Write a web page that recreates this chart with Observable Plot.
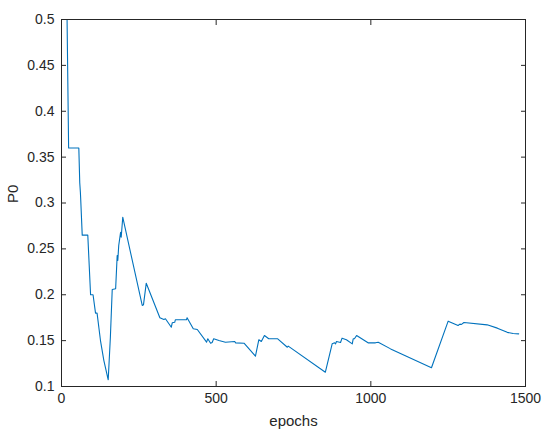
<!DOCTYPE html>
<html><head><meta charset="utf-8">
<script src="https://cdn.jsdelivr.net/npm/d3@7"></script>
<script src="https://cdn.jsdelivr.net/npm/@observablehq/plot@0.6"></script>
<style>body{margin:0;background:#fff}</style>
</head><body><div id="chart"></div>
<script>
const epochs = [0,18,23,56,59,61,62,67,85,94,102,110,115,126,137,151,158,164,175,180,182,185,191,193,198,261,265,274,318,331,336,355,358,366,368,404,406,426,439,469,473,482,487,492,509,530,560,563,590,627,638,646,656,670,699,730,733,853,875,883,886,889,902,907,921,940,943,947,954,991,1015,1024,1064,1196,1250,1282,1288,1292,1301,1376,1409,1441,1460,1478];
const p0 = [0.5,0.5,0.36,0.36,0.322,0.312,0.305,0.265,0.265,0.2,0.2,0.18,0.18,0.1501,0.1283,0.1073,0.1537,0.2057,0.2065,0.2428,0.2373,0.2537,0.268,0.2627,0.2845,0.1883,0.189,0.2126,0.1749,0.173,0.1738,0.1646,0.1694,0.17,0.1727,0.1727,0.1749,0.1629,0.1621,0.1483,0.152,0.1472,0.148,0.152,0.1501,0.1483,0.149,0.1476,0.1472,0.133,0.151,0.149,0.1556,0.152,0.152,0.1428,0.144,0.1156,0.1465,0.1476,0.1465,0.149,0.148,0.1527,0.151,0.1465,0.152,0.152,0.1556,0.1476,0.1476,0.1483,0.141,0.1204,0.1712,0.1665,0.168,0.1675,0.1698,0.1672,0.1636,0.159,0.1578,0.1574];
const xTicks = [0,500,1000,1500];
const yTicks = [0.1,0.15,0.2,0.25,0.3,0.35,0.4,0.45,0.5];
const xLabel = "epochs";
const yLabel = "P0";

const data = epochs.map((e, i) => ({epoch: e, p0: p0[i]}));
const ink = "#262626";
const fmt = d => `${d}`;

const chart = Plot.plot({
  width: 550, height: 440,
  marginLeft: 61, marginRight: 25, marginTop: 19, marginBottom: 54,
  style: {fontFamily: "'Liberation Sans', Arial, sans-serif", fontSize: "14px", background: "#fff", color: ink},
  x: {domain: [0, 1500]},
  y: {domain: [0.1, 0.5]},
  marks: [
    Plot.line(data, {x: "epoch", y: "p0", stroke: "#0072BD", strokeWidth: 1.1, clip: true}),
    Plot.frame({stroke: ink, strokeWidth: 1}),
    Plot.axisX(xTicks, {anchor: "bottom", tickSize: -5, tickPadding: 12, tickFormat: fmt, label: null, stroke: ink, fill: ink}),
    Plot.axisX(xTicks, {anchor: "top", tickSize: -5, tickFormat: () => "", label: null, stroke: ink}),
    Plot.axisY(yTicks, {anchor: "left", tickSize: -5, tickPadding: 12, tickFormat: fmt, label: null, stroke: ink, fill: ink}),
    Plot.axisY(yTicks, {anchor: "right", tickSize: -5, tickFormat: () => "", label: null, stroke: ink}),
    Plot.text([xLabel], {text: d => d, frameAnchor: "bottom", lineAnchor: "top", dy: 29, fill: ink, fontSize: 15}),
    Plot.text([yLabel], {text: d => d, frameAnchor: "left", lineAnchor: "top", rotate: -90, dx: -54, fill: ink, fontSize: 15})
  ]
});
document.getElementById("chart").appendChild(chart);
</script>
</body></html>
